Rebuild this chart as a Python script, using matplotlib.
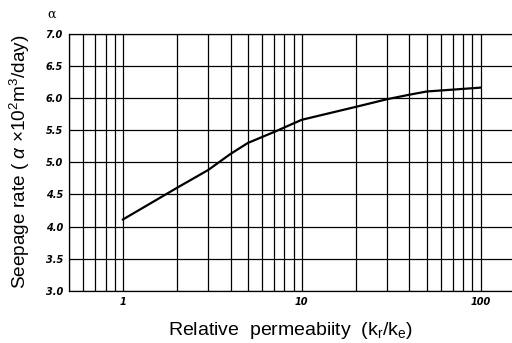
import matplotlib
matplotlib.use('Agg')
import matplotlib.pyplot as plt
from matplotlib.ticker import LogLocator, FixedLocator, NullFormatter, FixedFormatter

# 数据
perm_ratio = [1, 2, 3, 4, 5, 7, 10, 20, 30, 40, 50, 100]
seepage = [4.11, 4.60, 4.88, 5.13, 5.30, 5.47, 5.66, 5.86, 5.98, 6.05, 6.10, 6.16]
y_ticks = [3.0, 3.5, 4.0, 4.5, 5.0, 5.5, 6.0, 6.5, 7.0]
x_ticks = [1, 10, 100]
x_tick_labels = ['1', '10', '100']

plt.rcParams['font.family'] = ['Liberation Sans', 'DejaVu Sans']
plt.rcParams['mathtext.fontset'] = 'custom'
plt.rcParams['mathtext.rm'] = 'Liberation Sans'
plt.rcParams['mathtext.it'] = 'Liberation Sans:italic'

fig = plt.figure(figsize=(5.12, 3.43), dpi=100)
ax = fig.add_axes([0.135, 0.152, 0.865, 0.750])

ax.plot(perm_ratio, seepage, color='black', linewidth=1.6, zorder=3)

ax.set_xscale('log')
ax.set_xlim(0.5, 150)
ax.set_ylim(3.0, 7.0)

# 坐标轴刻度
ax.xaxis.set_major_locator(FixedLocator(x_ticks))
ax.xaxis.set_major_formatter(FixedFormatter(x_tick_labels))
ax.xaxis.set_minor_locator(LogLocator(base=10, subs=range(2, 10)))
ax.xaxis.set_minor_formatter(NullFormatter())
ax.set_yticks(y_ticks)
ax.set_yticklabels([f'{v:.1f}' for v in y_ticks])
ax.tick_params(which='both', length=0, labelsize=7, pad=4.5)
for lab in ax.get_xticklabels() + ax.get_yticklabels():
    lab.set_family('DejaVu Sans')
    lab.set_fontweight('bold')
    lab.set_fontstyle('italic')

# 网格
ax.grid(which='major', axis='both', color='black', linewidth=0.9)
ax.grid(which='minor', axis='x', color='black', linewidth=0.9)
ax.spines['right'].set_visible(False)
for s in ['left', 'top', 'bottom']:
    ax.spines[s].set_linewidth(0.9)

ax.set_xlabel('Relative  permeabiity  (k$_\\mathrm{r}$/k$_\\mathrm{e}$)', fontsize=14, labelpad=9)
ax.set_ylabel('Seepage rate ( $\\alpha$ ×10$^2$m$^3$/day)', fontsize=13.7, labelpad=10)
fig.text(52 / 512, 1 - 14 / 343, 'α', fontsize=9, family='DejaVu Serif',
         ha='center', va='center')

fig.savefig('out.png', dpi=100)
